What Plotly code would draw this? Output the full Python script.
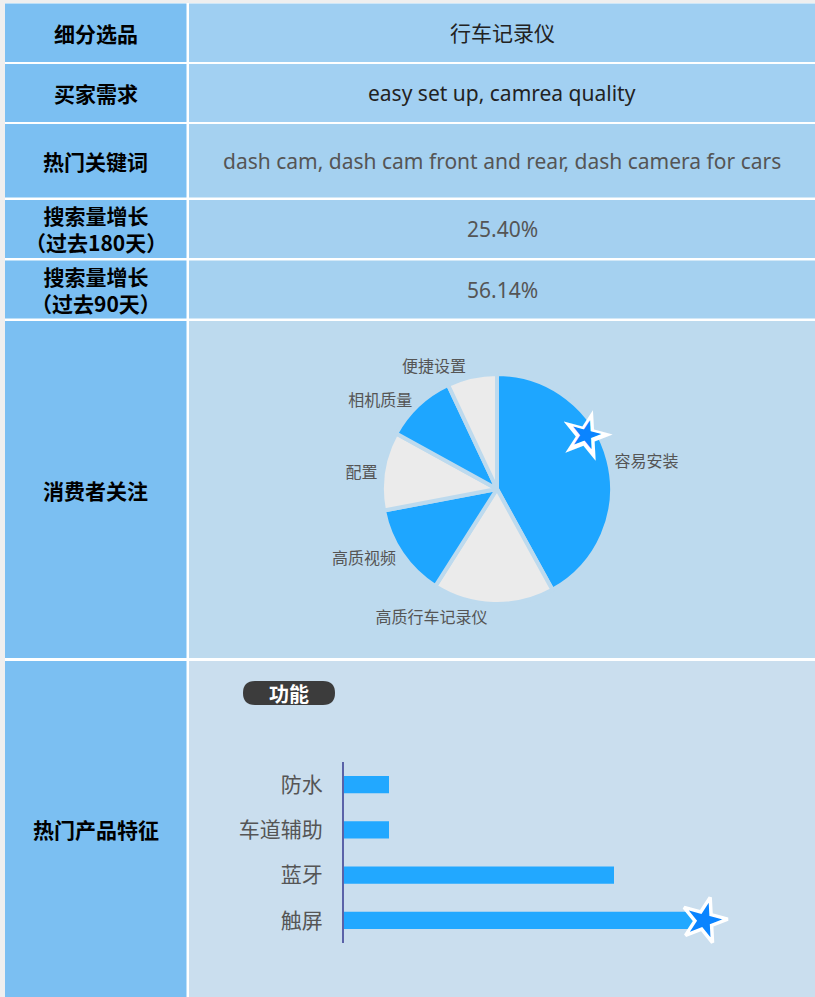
import plotly.graph_objects as go

W, H = 815, 997

# ---------------- data ----------------
row_labels = ["细分选品", "买家需求", "热门关键词", "搜索量增长<br>（过去180天）",
              "搜索量增长<br>（过去90天）", "消费者关注", "热门产品特征"]
row_values = ["行车记录仪", "easy set up, camrea quality",
              "dash cam, dash cam front and rear, dash camera for cars",
              "25.40%", "56.14%"]
pie_labels = ["容易安装", "高质行车记录仪", "高质视频", "配置", "相机质量", "便捷设置"]
pie_values = [42, 17, 13, 11, 10, 7]
feature_tag = "功能"
feature_labels = ["防水", "车道辅助", "蓝牙", "触屏"]
feature_values = [1, 1, 6, 8]

# ---------------- layout helpers ----------------
def px(x):
    return x / W

def py(y):
    return 1 - y / H

CJK = "Noto Sans CJK SC"
LAT = "Noto Sans, Noto Sans CJK SC"

rows = [(3.5, 62), (64, 122), (124, 197.5), (200, 258), (260.5, 318.5), (321, 658), (661, 997)]
LX0, LX1, RX0, RX1 = 5, 186.5, 189, 815
left_fill = "#7bbff2"
right_fills = ["#9fcff2", "#a2d0f2", "#a5d1f0", "#a4d0f0", "#a5d1f0", "#bddaee", "#cadeee"]
value_colors = ["#222222", "#222222", "#555555", "#555555", "#555555"]

shapes = []
annotations = []

# white sheet
shapes.append(dict(type="rect", xref="paper", yref="paper", x0=px(5), x1=px(815),
                   y0=py(997), y1=py(3), fillcolor="white", line=dict(width=0), layer="below"))
for i, (y0, y1) in enumerate(rows):
    shapes.append(dict(type="rect", xref="paper", yref="paper", x0=px(LX0), x1=px(LX1),
                       y0=py(y1), y1=py(y0), fillcolor=left_fill, line=dict(width=0), layer="below"))
    shapes.append(dict(type="rect", xref="paper", yref="paper", x0=px(RX0), x1=px(RX1),
                       y0=py(y1), y1=py(y0), fillcolor=right_fills[i], line=dict(width=0), layer="below"))
    annotations.append(dict(xref="paper", yref="paper", x=px((LX0 + LX1) / 2), y=py((y0 + y1) / 2),
                            text="<b>" + row_labels[i] + "</b>", showarrow=False,
                            font=dict(family=CJK, size=21, color="#000000"),
                            xanchor="center", yanchor="middle"))
    if i < len(row_values):
        annotations.append(dict(xref="paper", yref="paper", x=px((RX0 + RX1) / 2), y=py((y0 + y1) / 2),
                                text=row_values[i], showarrow=False,
                                font=dict(family=LAT, size=21, color=value_colors[i]),
                                xanchor="center", yanchor="middle"))

# "功能" pill
bx0, bx1, by0, by1, r = 243, 335, 681, 705, 12
path = (f"M {px(bx0 + r)},{py(by0)} L {px(bx1 - r)},{py(by0)} "
        f"Q {px(bx1)},{py(by0)} {px(bx1)},{py((by0 + by1) / 2)} "
        f"Q {px(bx1)},{py(by1)} {px(bx1 - r)},{py(by1)} "
        f"L {px(bx0 + r)},{py(by1)} "
        f"Q {px(bx0)},{py(by1)} {px(bx0)},{py((by0 + by1) / 2)} "
        f"Q {px(bx0)},{py(by0)} {px(bx0 + r)},{py(by0)} Z")
shapes.append(dict(type="path", xref="paper", yref="paper", path=path,
                   fillcolor="#3c3c3c", line=dict(width=0), layer="below"))
annotations.append(dict(xref="paper", yref="paper", x=px((bx0 + bx1) / 2), y=py((by0 + by1) / 2),
                        text="<b>" + feature_tag + "</b>", showarrow=False,
                        font=dict(family=CJK, size=20, color="white"),
                        xanchor="center", yanchor="middle"))

# star decoration on pie
for size, col in [(66, "white"), (38, "#0a84ff")]:
    annotations.append(dict(xref="paper", yref="paper", x=px(586), y=py(434), text="★",
                            showarrow=False, textangle=15,
                            font=dict(family="DejaVu Sans", size=size, color=col),
                            xanchor="center", yanchor="middle"))

fig = go.Figure()

# ---------------- pie ----------------
cx, cy, rad = 497, 489, 115
blue, white = "#1ea6ff", "#ebebeb"
fig.add_trace(go.Pie(
    labels=pie_labels, values=pie_values, sort=False, direction="clockwise", rotation=0,
    marker=dict(colors=[blue, white, blue, white, blue, white],
                line=dict(color="#bddaee", width=4)),
    textinfo="label", textposition="outside",
    textfont=dict(family=CJK, size=16, color="#555555"),
    domain=dict(x=[px(cx - rad), px(cx + rad)], y=[py(cy + rad), py(cy - rad)]),
    showlegend=False, hoverinfo="label+value",
))

# ---------------- bars ----------------
fig.add_trace(go.Bar(
    x=feature_values, y=feature_labels, orientation="h", width=0.38,
    marker=dict(color="#22a8ff", line=dict(width=0)),
    showlegend=False, xaxis="x", yaxis="y",
))
imax = feature_values.index(max(feature_values))
fig.add_trace(go.Scatter(
    x=[feature_values[imax]], y=[feature_labels[imax]], mode="markers",
    marker=dict(symbol="star", size=34, color="#0a84ff", angle=15,
                line=dict(color="white", width=3.5)),
    showlegend=False, hoverinfo="skip", cliponaxis=False,
))

fig.update_layout(
    width=W, height=H, margin=dict(l=0, r=0, t=0, b=0),
    paper_bgcolor="#efefef", plot_bgcolor="rgba(0,0,0,0)",
    shapes=shapes, annotations=annotations,
    xaxis=dict(domain=[px(344), px(794)], range=[0, 10], visible=False, fixedrange=True),
    yaxis=dict(domain=[py(943), py(762)], type="category", range=[3.5, -0.5],
               showline=True, linecolor="#5a62a8", linewidth=2, showgrid=False,
               ticks="", ticklabelstandoff=15,
               tickfont=dict(family=CJK, size=21, color="#555555"), fixedrange=True),
)

fig.write_html("out.html", config={"displayModeBar": False},
               post_script="document.body.style.margin='0';")
